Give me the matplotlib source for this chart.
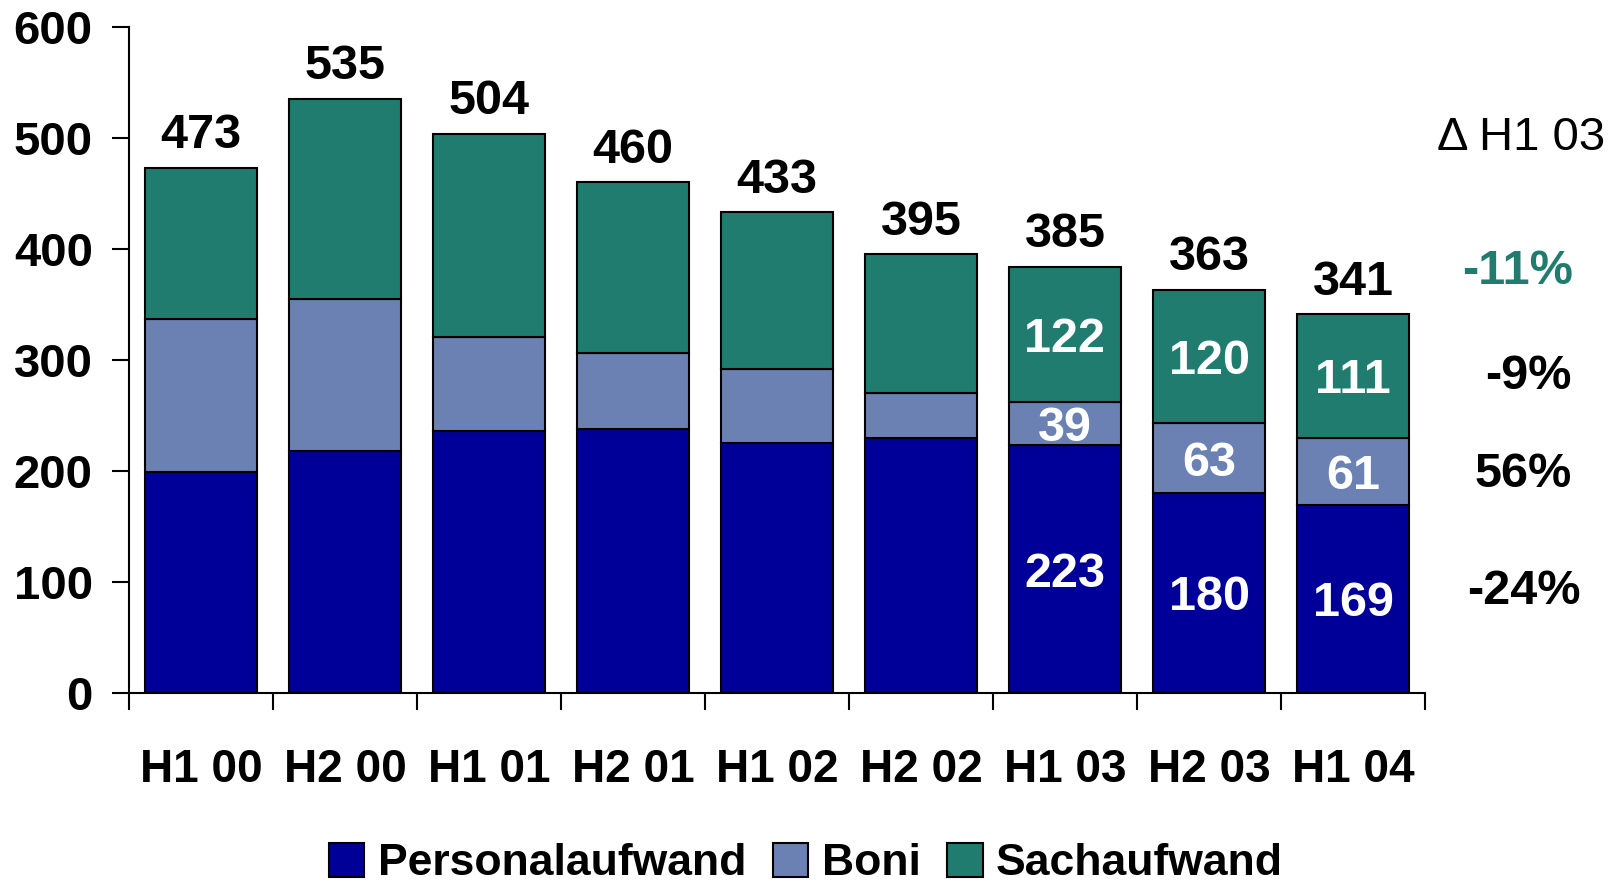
import matplotlib
matplotlib.use("Agg")
import matplotlib.pyplot as plt
import numpy as np

categories = ["H1 00", "H2 00", "H1 01", "H2 01", "H1 02", "H2 02", "H1 03", "H2 03", "H1 04"]
personal = [199, 218, 236, 238, 225, 230, 223, 180, 169]
boni = [138, 137, 85, 68, 67, 40, 39, 63, 61]
sach = [136, 180, 183, 154, 141, 125, 122, 120, 111]
totals = [473, 535, 504, 460, 433, 395, 385, 363, 341]
labeled_from = 6
delta_title = "Δ H1 03"
delta_labels = ["-11%", "-9%", "56%", "-24%"]
delta_yvals = [380, 285, 197, 91]
delta_colors = ["#217C70", "black", "black", "black"]

c_pers = "#000099"
c_boni = "#6B80B3"
c_sach = "#217C70"

plt.rcParams['font.family'] = ['Liberation Sans', 'DejaVu Sans']

fig = plt.figure(figsize=(16.12, 8.83), dpi=100)
ax = fig.add_axes([0.080, 0.2155, 0.804, 0.7539])

x = np.arange(len(categories))
w = 0.775
p = np.array(personal); b = np.array(boni); s = np.array(sach)
kw = dict(width=w, edgecolor="black", linewidth=1.5)
ax.bar(x, p, color=c_pers, label="Personalaufwand", **kw)
ax.bar(x, b, bottom=p, color=c_boni, label="Boni", **kw)
ax.bar(x, s, bottom=p + b, color=c_sach, label="Sachaufwand", **kw)

for i, t in enumerate(totals):
    top = p[i] + b[i] + s[i]
    ax.annotate(str(t), (x[i], top), xytext=(0, 7), textcoords="offset points",
                ha="center", va="bottom", fontsize=35, fontweight="bold")

for i in range(labeled_from, len(categories)):
    ax.text(x[i], p[i] / 2, str(personal[i]), ha="center", va="center_baseline",
            color="white", fontsize=35, fontweight="bold")
    ax.text(x[i], p[i] + b[i] / 2, str(boni[i]), ha="center", va="center_baseline",
            color="white", fontsize=35, fontweight="bold")
    ax.text(x[i], p[i] + b[i] + s[i] / 2, str(sach[i]), ha="center", va="center_baseline",
            color="white", fontsize=35, fontweight="bold")

ax.text(9.17, 500, delta_title, ha="center", va="center", fontsize=34, clip_on=False)
xs = [9.14, 9.22, 9.18, 9.19]
for lab, yv, col, xv in zip(delta_labels, delta_yvals, delta_colors, xs):
    ax.text(xv, yv, lab, ha="center", va="center", fontsize=35, fontweight="bold",
            color=col, clip_on=False)

ax.set_xlim(-0.5, len(categories) - 0.5)
ax.set_ylim(0, 600)
ax.set_yticks(range(0, 601, 100))
ax.set_xticks(x)
ax.set_xticklabels(categories)
ax.set_xticks(np.arange(-0.5, len(categories), 1.0), minor=True)
ax.tick_params(axis="x", which="major", length=0, pad=40, labelsize=33)
ax.tick_params(axis="x", which="minor", length=12, width=1.5, direction="out")
ax.tick_params(axis="y", length=12, width=1.5, pad=14, labelsize=34)
for lab in ax.get_xticklabels() + ax.get_yticklabels():
    lab.set_fontweight("bold")

ax.spines["top"].set_visible(False)
ax.spines["right"].set_visible(False)
ax.spines["left"].set_linewidth(1.5)
ax.spines["bottom"].set_linewidth(1.5)

leg = fig.legend(loc="center", bbox_to_anchor=(0.5, 0.022), ncol=3, frameon=False,
                 prop={"size": 32, "weight": "bold"}, handlelength=0.8, handleheight=0.8,
                 handletextpad=0.3, columnspacing=0.6)

fig.savefig("out.png", dpi=100)
